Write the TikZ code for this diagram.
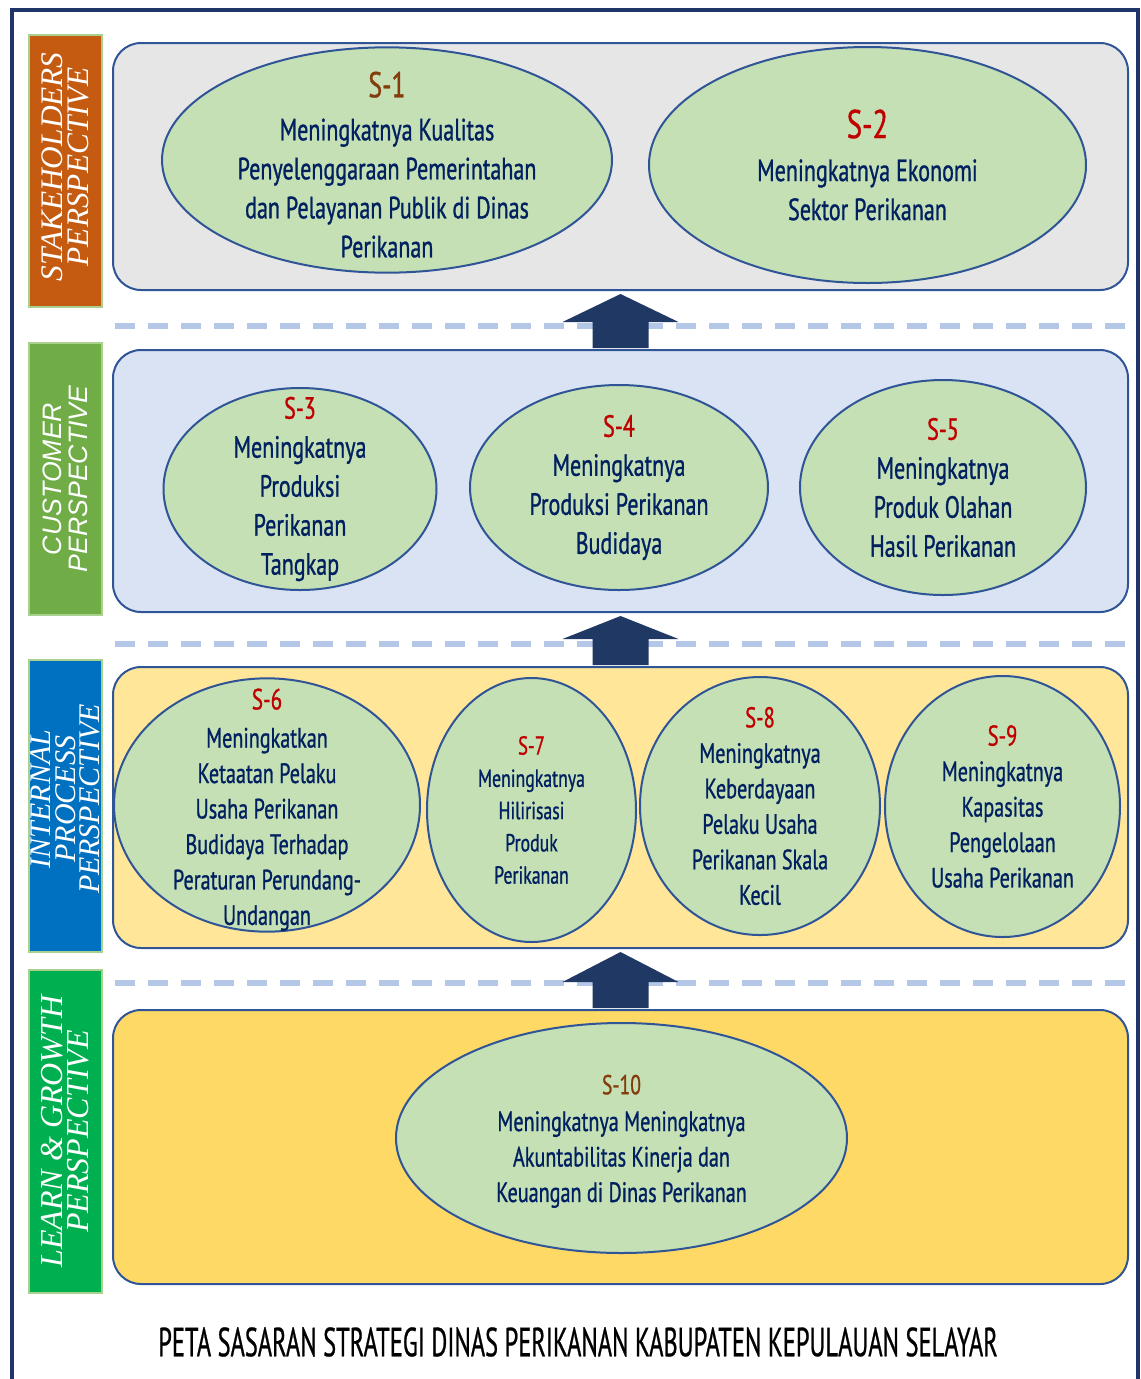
\documentclass[tikz,border=0pt]{standalone}
\usepackage{fontspec}
\usetikzlibrary{fit,calc,shapes.geometric}
\newfontfamily\condf[FakeStretch=0.72,FakeBold=0.9]{PT Sans}
\newfontfamily\titlef[FakeStretch=0.6,FakeBold=0.6]{PT Sans}
\newfontfamily\labserif{Liberation Serif}
\newfontfamily\labsans{Liberation Sans}
\definecolor{navy}{HTML}{002060}
\definecolor{framec}{HTML}{1F3468}
\definecolor{arrowc}{HTML}{203864}
\definecolor{edge}{HTML}{2F5597}
\definecolor{ellfill}{HTML}{C5E0B4}
\definecolor{pa}{HTML}{E7E6E6}
\definecolor{pb}{HTML}{DAE3F3}
\definecolor{pc}{HTML}{FFE699}
\definecolor{pd}{HTML}{FFD966}
\definecolor{dashc}{HTML}{B4C7E7}
\definecolor{sred}{HTML}{C00000}
\definecolor{sbrown}{HTML}{843C0C}
\definecolor{lorange}{HTML}{C55A11}
\definecolor{lgreen}{HTML}{70AD47}
\definecolor{lblue}{HTML}{0070C0}
\definecolor{lgreenb}{HTML}{00B050}
\definecolor{lborder}{HTML}{A9D18E}
\newcommand\uparr[2]{%
  \fill[arrowc] ($(#1.north)+(-28,-1)$) -- ($(#1.north)+(-28,-27)$) -- ($(#1.north)+(-58,-27)$)
   -- ($(#2.south)+(0,3)$) -- ($(#1.north)+(58,-27)$) -- ($(#1.north)+(28,-27)$)
   -- ($(#1.north)+(28,-1)$) -- cycle;}
\tikzset{
  panel/.style={draw=edge, line width=1.5pt, rounded corners=21pt, inner sep=0pt},
  ell/.style={ellipse, draw=edge, line width=1.5pt, fill=ellfill, inner sep=0pt},
  labbox/.style={draw=lborder, line width=1pt, inner sep=0pt},
  labtext/.style={rotate=90, align=center, text=white, inner sep=0pt},
  dline/.style={draw=dashc, line width=4.5pt, dash pattern=on 15pt off 9.75pt},
  bigf/.style={font=\condf\fontsize{23}{29.25}\selectfont, align=center, text=navy, inner sep=0pt},
  midf/.style={font=\condf\fontsize{21}{26.6}\selectfont, align=center, text=navy, inner sep=0pt},
  smallf/.style={font=\condf\fontsize{18.5}{24.2}\selectfont, align=center, text=navy, inner sep=0pt},
}
\newcommand\slab[3]{{\fontsize{#2}{#2}\selectfont\color{#3}#1}}
\begin{document}
\begin{tikzpicture}[x=0.75pt,y=-0.75pt]
\useasboundingbox (0,0) rectangle (1140,1379);
\clip (0,0) rectangle (1140,1379);
% outer frame
\draw[framec, line width=2.5pt] (12,1390) -- (12,10) -- (1138,10) -- (1138,1390);
% side labels
\node[labbox, fill=lorange, fit={(29,35) (102,307)}] (l1) {};
\node[labtext, font=\labserif\itshape\fontsize{23.5}{19.5}\selectfont] (l1t) at ($(l1.center)+(0,-4)$) {STAKEHOLDERS\\PERSPECTIVE};
\node[labbox, fill=lgreen, fit={(29,343) (102,615)}] (l2) {};
\node[labtext, font=\labsans\itshape\fontsize{20}{19.5}\selectfont] (l2t) at (l2.center) {CUSTOMER\\PERSPECTIVE};
\node[labbox, fill=lblue, fit={(29,660) (102,952)}] (l3) {};
\node[labtext, font=\labserif\itshape\fontsize{22.5}{18.5}\selectfont] (l3t) at ($(l3.center)+(0,-7)$) {INTERNAL\\PROCESS\\PERSPECTIVE};
\node[labbox, fill=lgreenb, fit={(29,970) (102,1293)}] (l4) {};
\node[labtext, font=\labserif\itshape\fontsize{24}{19.5}\selectfont] (l4t) at (l4.center) {LEARN \& GROWTH\\PERSPECTIVE};
% panels
\node[panel, fill=pa, fit={(113,43) (1128,290)}] (p1) {};
\node[panel, fill=pb, fit={(113,350) (1128,612)}] (p2) {};
\node[panel, fill=pc, fit={(113,667) (1128,948)}] (p3) {};
\node[panel, fill=pd, fit={(113,1010) (1128,1284)}] (p4) {};
% dashed separators
\draw[dline] (115,326) -- (1128,326);
\draw[dline] (115,644) -- (1128,644);
\draw[dline] (115,983) -- (1128,983);
% block arrows
\uparr{p2}{p1}
\uparr{p3}{p2}
\uparr{p4}{p3}
% objectives
\node[ell, minimum width=337.5pt, minimum height=169pt,
 label={[bigf, yshift=-3.5pt]center:{\slab{S-1}{27}{sbrown}\\[3pt]Meningkatnya Kualitas\\Penyelenggaraan Pemerintahan\\dan Pelayanan Publik di Dinas\\Perikanan}}] (s1) at (387,160) {};
\node[ell, minimum width=327.75pt, minimum height=177pt,
 label={[bigf]center:{\slab{S-2}{30}{sred}\\[3pt]Meningkatnya Ekonomi\\Sektor Perikanan}}] (s2) at (867.5,165) {};
\node[ell, minimum width=204.75pt, minimum height=151.5pt,
 label={[bigf]center:{\slab{S-3}{23}{sred}\\Meningkatnya\\Produksi\\Perikanan\\Tangkap}}] (s3) at (300,489) {};
\node[ell, minimum width=223.5pt, minimum height=153.75pt,
 label={[bigf]center:{\slab{S-4}{23}{sred}\\Meningkatnya\\Produksi Perikanan\\Budidaya}}] (s4) at (619,487.5) {};
\node[ell, minimum width=214.5pt, minimum height=161.25pt,
 label={[bigf]center:{\slab{S-5}{23}{sred}\\Meningkatnya\\Produk Olahan\\Hasil Perikanan}}] (s5) at (943,487.5) {};
\node[ell, minimum width=229.5pt, minimum height=190pt,
 label={[midf, yshift=-3.5pt]center:{\slab{S-6}{22}{sred}\\[2pt]Meningkatkan\\Ketaatan Pelaku\\Usaha Perikanan\\Budidaya Terhadap\\Peraturan Perundang-\\Undangan}}] (s6) at (267,805) {};
\node[ell, minimum width=156.75pt, minimum height=198pt,
 label={[smallf]center:{\slab{S-7}{19.5}{sred}\\Meningkatnya\\Hilirisasi\\Produk\\Perikanan}}] (s7) at (531.5,810) {};
\node[ell, minimum width=180pt, minimum height=193.5pt,
 label={[midf]center:{\slab{S-8}{21.5}{sred}\\Meningkatnya\\Keberdayaan\\Pelaku Usaha\\Perikanan Skala\\Kecil}}] (s8) at (760,806) {};
\node[ell, minimum width=176.25pt, minimum height=195.75pt,
 label={[midf]center:{\slab{S-9}{21.5}{sred}\\Meningkatnya\\Kapasitas\\Pengelolaan\\Usaha Perikanan}}] (s9) at (1002.5,806.5) {};
\node[ell, minimum width=338.25pt, minimum height=172.5pt,
 label={[midf, yshift=-2.5pt]center:{\slab{S-10}{20.5}{sbrown}\\[1pt]Meningkatnya Meningkatnya\\Akuntabilitas Kinerja dan\\Keuangan di Dinas Perikanan}}] (s10) at (621.5,1138) {};
% title
\node[font=\titlef\fontsize{30.5}{30.5}\selectfont, text=black] (title) at (578,1342)
 {PETA SASARAN STRATEGI DINAS PERIKANAN KABUPATEN KEPULAUAN SELAYAR};
\end{tikzpicture}
\end{document}
